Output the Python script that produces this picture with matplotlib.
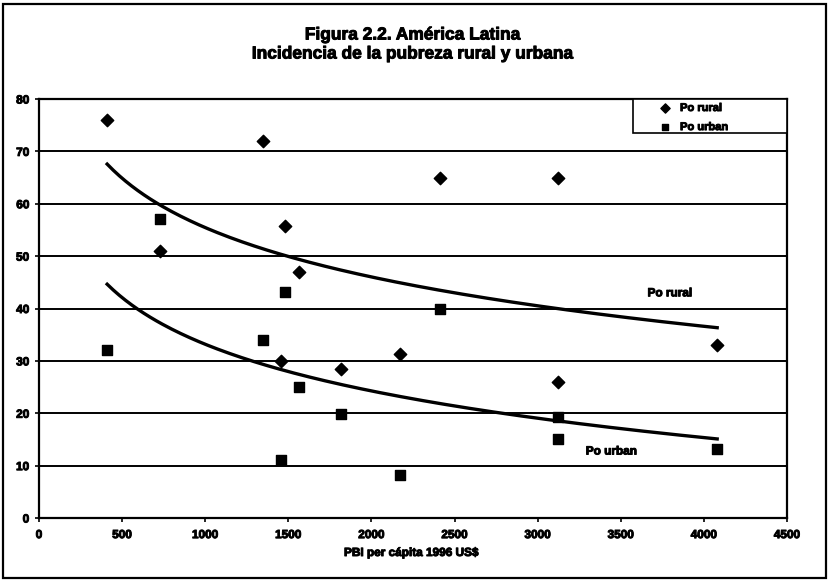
import numpy as np
import matplotlib
matplotlib.use("Agg")
import matplotlib.pyplot as plt
import matplotlib.patheffects as pe
from matplotlib.patches import Rectangle

plt.rcParams['font.family'] = ['Liberation Sans', 'DejaVu Sans']
plt.rcParams['font.weight'] = 'bold'

# PBI per capita (US$ 1996) and poverty incidence (%)
pbi = [410, 730, 1350, 1455, 1480, 1565, 1815, 2170, 2410, 3125, 3125, 4080]
po_rural = [76, 51, 72, 30, 55.7, 47, 28.5, 31.3, 65, 65, 26, 33]
po_urban = [32, 57, 34, 11, 43.2, 25, 19.8, 8.2, 40, 19.3, 15.1, 13.2]

x = np.array(pbi, dtype=float)

# scanned look: thicken the text a bit
heavy = [pe.withStroke(linewidth=0.7, foreground='black')]


def log_trend(xs, ys):
    b, a = np.polyfit(np.log(xs), ys, 1)
    xx = np.linspace(xs.min(), xs.max(), 200)
    return xx, a + b * np.log(xx)


fig = plt.figure(figsize=(8.29, 5.81), dpi=100)
ax = fig.add_axes([39 / 829, 1 - 518 / 581, 748 / 829, 419 / 581])

fig.patches.append(Rectangle((3 / 829, 3 / 581), 823 / 829, 574 / 581,
                             transform=fig.transFigure, fill=False,
                             edgecolor='black', linewidth=1.6))

for v in range(10, 80, 10):
    ax.axhline(v, color='black', linewidth=1.4, zorder=1)

ax.scatter(pbi, po_rural, marker='D', s=40, color='black', zorder=3)
ax.scatter(pbi, po_urban, marker='s', s=48, color='black', zorder=3)

xr, yr = log_trend(x, np.array(po_rural))
xu, yu = log_trend(x, np.array(po_urban))
ax.plot(xr, yr, color='black', linewidth=2.4, zorder=2)
ax.plot(xu, yu, color='black', linewidth=2.4, zorder=2)

ax.text(3795, 42.9, 'Po rural', fontsize=8.5, fontweight='bold', ha='center',
        va='center', path_effects=heavy)
ax.text(3443, 12.7, 'Po urban', fontsize=8.5, fontweight='bold', ha='center',
        va='center', path_effects=heavy)

ax.set_xlim(0, 4500)
ax.set_ylim(0, 80)
ax.set_xticks(range(0, 4501, 500))
ax.set_yticks(range(0, 81, 10))
ax.tick_params(labelsize=8.5, length=3, width=1.2, direction='out')
ax.tick_params(axis='x', pad=5)
ax.tick_params(axis='y', pad=4)
for lab in ax.get_xticklabels() + ax.get_yticklabels():
    lab.set_path_effects(heavy)
for s in ax.spines.values():
    s.set_linewidth(1.6)

# legend box, upper right
ax.add_patch(Rectangle((0.794, 0.919), 0.206, 0.081, transform=ax.transAxes,
                       fill=True, facecolor='white', edgecolor='black',
                       linewidth=1.2, zorder=5, clip_on=False))
ax.scatter([0.837], [0.9785], marker='D', s=22, color='black', transform=ax.transAxes,
           zorder=6, clip_on=False)
ax.scatter([0.837], [0.933], marker='s', s=22, color='black', transform=ax.transAxes,
           zorder=6, clip_on=False)
ax.text(0.857, 0.9785, 'Po rural', transform=ax.transAxes, fontsize=8, va='center',
        ha='left', zorder=6, path_effects=heavy)
ax.text(0.857, 0.933, 'Po urban', transform=ax.transAxes, fontsize=8, va='center',
        ha='left', zorder=6, path_effects=heavy)

fig.text(413 / 829, 1 - 35 / 581, 'Figura 2.2. América Latina', ha='center', va='center',
         fontsize=12.5, fontweight='bold', path_effects=heavy)
fig.text(413 / 829, 1 - 54 / 581, 'Incidencia de la pubreza rural y urbana', ha='center',
         va='center', fontsize=12.5, fontweight='bold', path_effects=heavy)
fig.text(411 / 829, 1 - 553 / 581, 'PBI per cápita 1996 US$', ha='center', va='center',
         fontsize=8.5, fontweight='bold', path_effects=heavy)

fig.savefig('out.png', dpi=100)
